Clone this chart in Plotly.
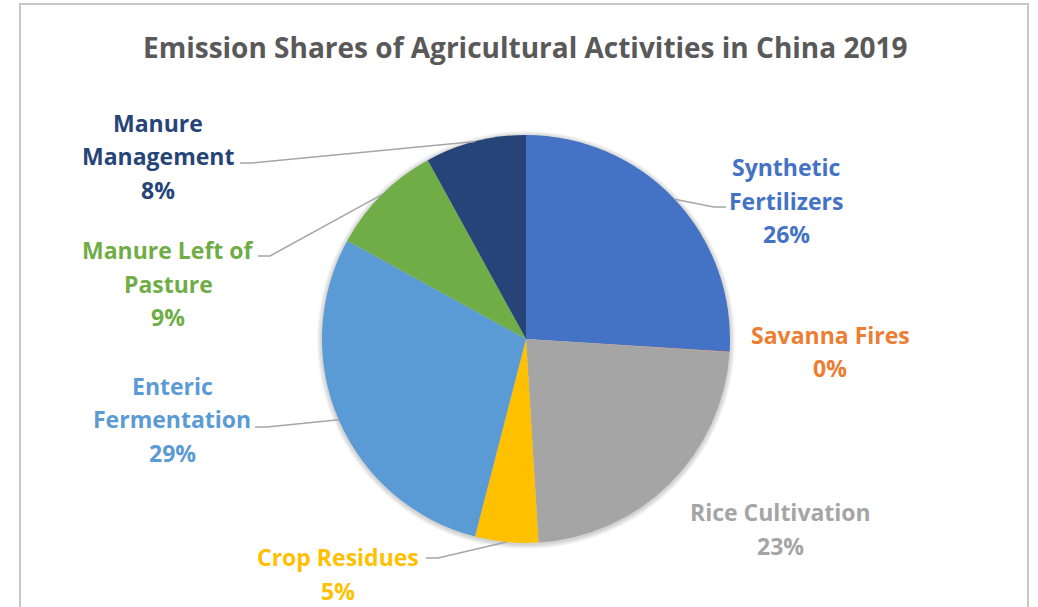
import math
import plotly.graph_objects as go

# Emission shares (%) of agricultural activities, China 2019
categories = [
    "Synthetic Fertilizers",
    "Savanna Fires",
    "Rice Cultivation",
    "Crop Residues",
    "Enteric Fermentation",
    "Manure Left of Pasture",
    "Manure Management",
]
shares = [26, 0.05, 23, 5, 29, 9, 8]
colors = ["#4472C4", "#ED7D31", "#A5A5A5", "#FFC000", "#5B9BD5", "#70AD47", "#264478"]

W, H = 1038, 607
CX, CY, R = 526, 339, 204          # pie centre and radius in pixels
FONT = "Open Sans"


def px(x):
    return x / W


def py(y):
    return 1 - y / H


fig = go.Figure()
fig.add_trace(go.Pie(
    labels=categories,
    values=shares,
    marker=dict(colors=colors, line=dict(width=0)),
    sort=False,
    direction="clockwise",
    rotation=0,
    textinfo="none",
    hoverinfo="label+percent",
    showlegend=False,
    domain=dict(x=[px(CX - R), px(CX + R)], y=[py(CY + R), py(CY - R)]),
))

total = sum(shares)
pct = [round(v / total * 100) for v in shares]

# mid-angle point on the rim of each slice (clockwise from 12 o'clock)
rim = []
cum = 0
for v in shares:
    mid = (cum + v / 2) / total * 2 * math.pi
    rim.append((CX + R * math.sin(mid), CY - R * math.cos(mid)))
    cum += v

# label layout: name lines, centre x, first line y, leader start (or None)
label_layout = {
    "Synthetic Fertilizers": (["Synthetic", "Fertilizers"], 786, 167, (726, 207, -1)),
    "Savanna Fires": (["Savanna Fires"], 830, 335, None),
    "Rice Cultivation": (["Rice Cultivation"], 780, 512, None),
    "Crop Residues": (["Crop Residues"], 338, 557, (426, 558, 1)),
    "Enteric Fermentation": (["Enteric", "Fermentation"], 172, 386, (255, 427, 1)),
    "Manure Left of Pasture": (["Manure Left of", "Pasture"], 168, 250, (258, 256, 1)),
    "Manure Management": (["Manure", "Management"], 158, 123, (240, 163, 1)),
}
LINE_STEP = 33.5

annotations = []
shapes = []

# soft drop shadow under the pie
for k in range(1, 6):
    shapes.append(dict(
        type="circle", xref="paper", yref="paper", layer="below",
        x0=px(CX - R - k), x1=px(CX + R + k),
        y0=py(CY + 1 + R + k), y1=py(CY + 1 - R - k),
        fillcolor="rgba(0,0,0,0.035)", line=dict(width=0),
    ))

for i, name in enumerate(categories):
    lines, lx, ly, leader = label_layout[name]
    for k, t in enumerate(lines + [f"{pct[i]}%"]):
        annotations.append(dict(
            x=px(lx), y=py(ly + k * LINE_STEP), xref="paper", yref="paper",
            text=f"<b>{t}</b>", showarrow=False, xanchor="center", yanchor="middle",
            font=dict(family=FONT, size=23, color=colors[i]),
        ))
    if leader:
        x0, y0, d = leader
        x1 = x0 + 12 * d
        ex, ey = rim[i]
        shapes.append(dict(
            type="path", xref="paper", yref="paper",
            path=f"M {px(x0)} {py(y0)} L {px(x1)} {py(y0)} L {px(ex)} {py(ey)}",
            line=dict(color="#A6A6A6", width=1.5),
        ))

# chart area frame
shapes.append(dict(
    type="rect", xref="paper", yref="paper",
    x0=px(20), x1=px(1028), y0=py(640), y1=py(4),
    line=dict(color="#C8C8C8", width=2), layer="below",
))

annotations.append(dict(
    x=px(525), y=py(47), xref="paper", yref="paper",
    text="<b>Emission Shares of Agricultural Activities in China 2019</b>",
    showarrow=False, xanchor="center", yanchor="middle",
    font=dict(family=FONT, size=28, color="#595959"),
))

fig.update_layout(
    width=W, height=H,
    margin=dict(l=0, r=0, t=0, b=0),
    paper_bgcolor="white", plot_bgcolor="white",
    annotations=annotations, shapes=shapes,
)

fig.write_html("out.html")
